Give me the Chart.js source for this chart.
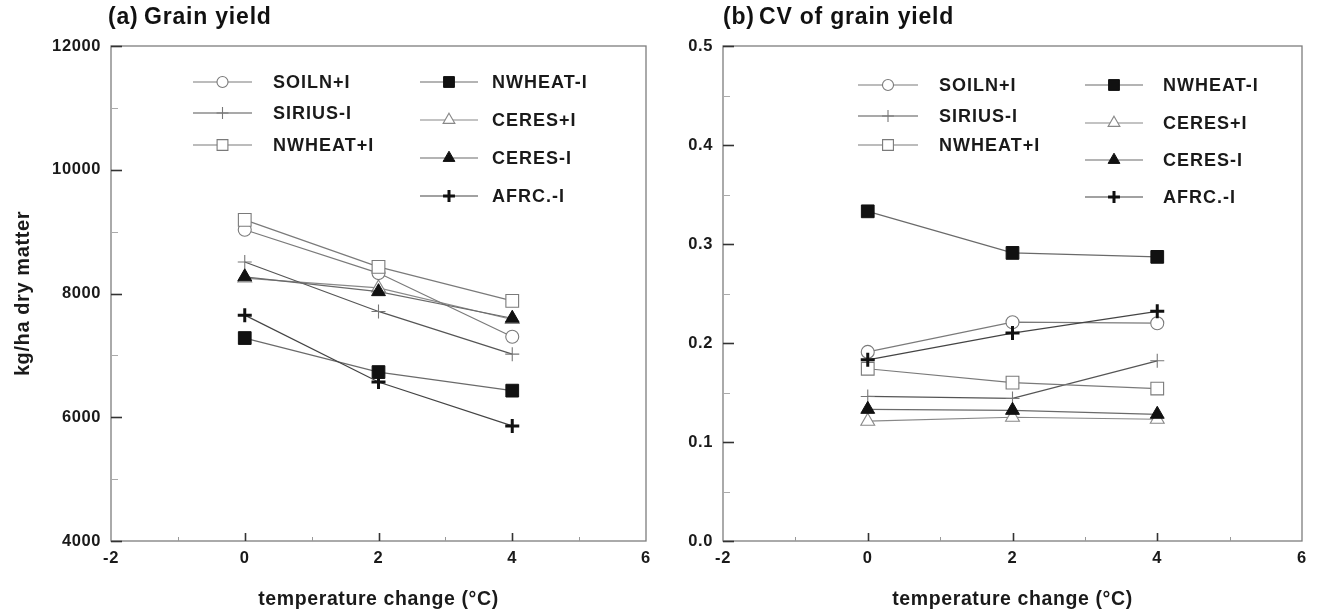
<!DOCTYPE html>
<html>
<head>
<meta charset="utf-8">
<title>Grain yield and CV of grain yield</title>
<script src="https://cdn.jsdelivr.net/npm/chart.js@4.4.1/dist/chart.umd.min.js"></script>
<style>
  body { margin: 0; background: #fff; }
  .panel { position: absolute; top: 0; height: 615px; }
</style>
</head>
<body>
<div class="panel" style="left:0;width:660px"><canvas id="chartA"></canvas></div>
<div class="panel" style="left:660px;width:659px"><canvas id="chartB"></canvas></div>
<script>
// temperature change (x values)
const temps = [0, 2, 4];
const xTicks = [-2, 0, 2, 4, 6];
const yieldTicks = [4000, 6000, 8000, 10000, 12000];
const cvTicks = [0.0, 0.1, 0.2, 0.3, 0.4, 0.5];

const seriesNames = ["SOILN+I", "SIRIUS-I", "NWHEAT+I", "NWHEAT-I", "CERES+I", "CERES-I", "AFRC.-I"];

// (a) grain yield, kg/ha dry matter
const yieldSoilnI   = [9030, 8330, 7300];
const yieldSiriusI  = [8510, 7710, 7020];
const yieldNwheatPI = [9190, 8430, 7880];
const yieldNwheatMI = [7280, 6730, 6430];
const yieldCeresPI  = [8250, 8090, 7580];
const yieldCeresMI  = [8270, 8030, 7600];
const yieldAfrcI    = [7650, 6570, 5860];

// (b) CV of grain yield
const cvSoilnI   = [0.191, 0.221, 0.220];
const cvSiriusI  = [0.146, 0.144, 0.182];
const cvNwheatPI = [0.174, 0.160, 0.154];
const cvNwheatMI = [0.333, 0.291, 0.287];
const cvCeresPI  = [0.121, 0.125, 0.123];
const cvCeresMI  = [0.133, 0.132, 0.128];
const cvAfrcI    = [0.183, 0.210, 0.232];

const yieldSeries = [yieldSoilnI, yieldSiriusI, yieldNwheatPI, yieldNwheatMI, yieldCeresPI, yieldCeresMI, yieldAfrcI];
const cvSeries = [cvSoilnI, cvSiriusI, cvNwheatPI, cvNwheatMI, cvCeresPI, cvCeresMI, cvAfrcI];

// marker / line looks per series (order: lower is drawn on top)
const looks = [
  { pointStyle: "circle",   radius: 6.5, fill: "#fff", stroke: "#7a7a7a", bw: 1.1, line: "#7a7a7a", order: 5 },
  { pointStyle: "cross",    radius: 7,   fill: "#fff", stroke: "#777",    bw: 1.1, line: "#555",    order: 6 },
  { pointStyle: "rect",     radius: 9,   fill: "#fff", stroke: "#7a7a7a", bw: 1.1, line: "#7a7a7a", order: 4 },
  { pointStyle: "rect",     radius: 9,   fill: "#111", stroke: "#111",    bw: 1,   line: "#6a6a6a", order: 2 },
  { pointStyle: "triangle", radius: 8,   fill: "#fff", stroke: "#888",    bw: 1.1, line: "#888",    order: 7 },
  { pointStyle: "triangle", radius: 8,   fill: "#111", stroke: "#111",    bw: 1,   line: "#6a6a6a", order: 3 },
  { pointStyle: "cross",    radius: 7,   fill: "#111", stroke: "#111",    bw: 3,   line: "#444",    order: 1 }
];

const FONT = "'Liberation Sans', Arial, sans-serif";

function makeDatasets(series) {
  return series.map((vals, i) => ({
    label: seriesNames[i],
    data: temps.map((t, k) => ({ x: t, y: vals[k] })),
    order: looks[i].order,
    borderColor: looks[i].line,
    borderWidth: 1.2,
    pointStyle: looks[i].pointStyle,
    pointRadius: looks[i].radius,
    pointBackgroundColor: looks[i].fill,
    pointBorderColor: looks[i].stroke,
    pointBorderWidth: looks[i].bw,
    tension: 0,
    fill: false
  }));
}

// frame, inward ticks, panel title and the in-plot legend
const paperPlugin = {
  id: "paper",
  beforeLayout(chart) { chart.ctx.letterSpacing = "0.6px"; },
  beforeDraw(chart) { chart.ctx.letterSpacing = "0.6px"; },
  beforeDatasetsDraw(chart) {
    const o = chart.options.plugins.paper;
    const ctx = chart.ctx;
    const a = chart.chartArea;
    const xs = chart.scales.x, ys = chart.scales.y;
    ctx.save();
    ctx.strokeStyle = "#7d7d7d";
    ctx.lineWidth = 1.3;
    ctx.strokeRect(a.left, a.top, a.right - a.left, a.bottom - a.top);

    // y ticks
    for (let v = ys.min; v <= ys.max + o.yMinor / 2; v += o.yMinor) {
      const major = Math.abs(v / o.yMajor - Math.round(v / o.yMajor)) < 1e-6;
      const py = Math.round(ys.getPixelForValue(v)) + 0.5;
      ctx.strokeStyle = major ? "#333" : "#aaa";
      ctx.lineWidth = major ? 1.6 : 1;
      ctx.beginPath();
      ctx.moveTo(a.left, py);
      ctx.lineTo(a.left + (major ? 11 : 7), py);
      ctx.stroke();
    }
    // x ticks
    for (let v = xs.min + 1; v < xs.max; v += 1) {
      const major = v % 2 === 0;
      const px = Math.round(xs.getPixelForValue(v)) + 0.5;
      ctx.strokeStyle = major ? "#333" : "#999";
      ctx.lineWidth = major ? 1.6 : 1;
      ctx.beginPath();
      ctx.moveTo(px, a.bottom);
      ctx.lineTo(px, a.bottom - (major ? 8 : 4));
      ctx.stroke();
    }
    ctx.restore();
  },
  afterDraw(chart) {
    const o = chart.options.plugins.paper;
    const ctx = chart.ctx;
    ctx.save();
    ctx.fillStyle = "#111";
    ctx.textBaseline = "middle";
    ctx.textAlign = "left";
    ctx.letterSpacing = "0.8px";
    ctx.font = "bold 23px " + FONT;
    ctx.fillText(o.tag, o.titleX, 18);
    ctx.fillText(o.title, o.titleX + o.titleGap, 18);

    ctx.font = "bold 18px " + FONT;
    ctx.letterSpacing = "1px";
    o.legend.forEach(item => {
      const lk = looks[item.i];
      ctx.strokeStyle = lk.line;
      ctx.lineWidth = 1.2;
      ctx.beginPath();
      ctx.moveTo(item.x0, item.y);
      ctx.lineTo(item.x1, item.y);
      ctx.stroke();
      ctx.fillStyle = lk.fill;
      ctx.strokeStyle = lk.stroke;
      ctx.lineWidth = lk.bw;
      Chart.helpers.drawPoint(ctx, {
        pointStyle: lk.pointStyle, radius: lk.radius * 0.85, rotation: 0, borderWidth: lk.bw
      }, (item.x0 + item.x1) / 2, item.y);
      ctx.fillStyle = "#1a1a1a";
      ctx.fillText(seriesNames[item.i], item.tx, item.y + 1);
    });
    ctx.restore();
  }
};

function makeChart(id, series, cfg) {
  return new Chart(document.getElementById(id), {
    type: "line",
    data: { datasets: makeDatasets(series) },
    plugins: [paperPlugin],
    options: {
      responsive: true,
      maintainAspectRatio: false,
      animation: false,
      events: [],
      layout: { padding: { left: 0, right: cfg.padRight, top: 46, bottom: 0 } },
      scales: {
        x: {
          type: "linear",
          min: -2, max: 6,
          afterBuildTicks: s => { s.ticks = xTicks.map(v => ({ value: v })); },
          afterFit: s => { s.height = 74; },
          grid: { display: false, drawTicks: false },
          border: { display: false },
          ticks: { padding: 8, color: "#1a1a1a", font: { family: FONT, size: 16.5, weight: "bold" } },
          title: {
            display: true,
            text: "temperature change (°C)",
            color: "#1a1a1a",
            font: { family: FONT, size: 19.5, weight: "bold" },
            padding: { top: 0, bottom: 4 }
          }
        },
        y: {
          type: "linear",
          min: cfg.yTicks[0], max: cfg.yTicks[cfg.yTicks.length - 1],
          afterBuildTicks: s => { s.ticks = cfg.yTicks.map(v => ({ value: v })); },
          afterFit: s => { s.width = cfg.yWidth; },
          grid: { display: false, drawTicks: false },
          border: { display: false },
          ticks: {
            padding: 10,
            color: "#1a1a1a",
            font: { family: FONT, size: 16.5, weight: "bold" },
            callback: cfg.fmt
          },
          title: {
            display: !!cfg.yTitle,
            text: cfg.yTitle || "",
            color: "#1a1a1a",
            font: { family: FONT, size: 20, weight: "bold" },
            padding: { top: 11, bottom: 0 }
          }
        }
      },
      plugins: {
        legend: { display: false },
        title: { display: false },
        tooltip: { enabled: false },
        paper: cfg.paper
      }
    }
  });
}

makeChart("chartA", yieldSeries, {
  padRight: 14,
  yWidth: 111,
  yTicks: yieldTicks,
  yTitle: "kg/ha dry matter",
  fmt: v => String(v),
  paper: {
    tag: "(a)", title: "Grain yield", titleX: 108, titleGap: 36,
    yMajor: 2000, yMinor: 1000,
    legend: [
      { i: 0, x0: 193, x1: 252, y: 82, tx: 273 },
      { i: 1, x0: 193, x1: 252, y: 113, tx: 273 },
      { i: 2, x0: 193, x1: 252, y: 145, tx: 273 },
      { i: 3, x0: 420, x1: 478, y: 82, tx: 492 },
      { i: 4, x0: 420, x1: 478, y: 120, tx: 492 },
      { i: 5, x0: 420, x1: 478, y: 158, tx: 492 },
      { i: 6, x0: 420, x1: 478, y: 196, tx: 492 }
    ]
  }
});

makeChart("chartB", cvSeries, {
  padRight: 17,
  yWidth: 63,
  yTicks: cvTicks,
  yTitle: null,
  fmt: v => Number(v).toFixed(1),
  paper: {
    tag: "(b)", title: "CV of grain yield", titleX: 63, titleGap: 36,
    yMajor: 0.1, yMinor: 0.05,
    legend: [
      { i: 0, x0: 198, x1: 258, y: 85, tx: 279 },
      { i: 1, x0: 198, x1: 258, y: 116, tx: 279 },
      { i: 2, x0: 198, x1: 258, y: 145, tx: 279 },
      { i: 3, x0: 425, x1: 483, y: 85, tx: 503 },
      { i: 4, x0: 425, x1: 483, y: 123, tx: 503 },
      { i: 5, x0: 425, x1: 483, y: 160, tx: 503 },
      { i: 6, x0: 425, x1: 483, y: 197, tx: 503 }
    ]
  }
});
</script>
</body>
</html>
